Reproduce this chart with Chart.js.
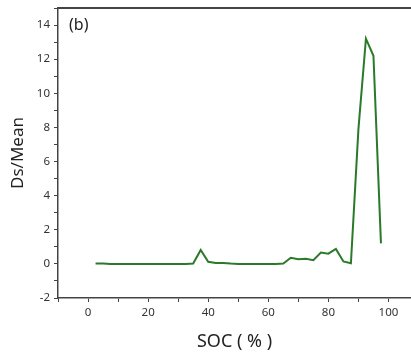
<!DOCTYPE html>
<html>
<head>
<meta charset="utf-8">
<script src="https://cdn.jsdelivr.net/npm/chart.js@4"></script>
<style>
  html, body { margin: 0; padding: 0; background: #fff; }
  #wrap { width: 411px; height: 354px; }
</style>
</head>
<body>
<div id="wrap"><canvas id="chart" width="411" height="354"></canvas></div>
<script>
// SOC (%) and Ds/Mean
const soc = [2.5, 5, 7.5, 10, 12.5, 15, 17.5, 20, 22.5, 25, 27.5, 30, 32.5, 35, 37.5, 40, 42.5, 45, 47.5, 50,
             52.5, 55, 57.5, 60, 62.5, 65, 67.5, 70, 72.5, 75, 77.5, 80, 82.5, 85, 87.5, 90, 92.5, 95, 97.5];
const dsMean = [0.02, 0.02, 0.0, 0.0, 0.0, 0.0, 0.0, 0.0, 0.0, 0.0, 0.0, 0.0, 0.0, 0.02, 0.82, 0.12, 0.05, 0.05, 0.02, 0.0,
                0.0, 0.0, 0.0, 0.0, 0.0, 0.02, 0.36, 0.27, 0.3, 0.22, 0.67, 0.6, 0.88, 0.14, 0.04, 7.9, 13.2, 12.2, 1.2];

const xTickStep = 10, xLabelStep = 20;
const yTickStep = 1, yLabelStep = 2;

const axisColor = "#444";
const tickFont = { family: "Noto Sans", size: 11.5 };

// top frame line
const topBorder = {
    id: "topBorder",
    afterDraw(chart) {
        const { ctx, chartArea } = chart;
        ctx.save();
        ctx.strokeStyle = axisColor;
        ctx.lineWidth = 2;
        ctx.beginPath();
        ctx.moveTo(chartArea.left, chartArea.top);
        ctx.lineTo(chartArea.right + 2, chartArea.top);
        ctx.stroke();
        ctx.restore();
    }
};

new Chart(document.getElementById("chart"), {
    type: "line",
    data: {
        datasets: [{
            data: soc.map((x, i) => ({ x, y: dsMean[i] })),
            borderColor: "#2a7a2a",
            borderWidth: 2,
            pointRadius: 0,
            tension: 0,
            fill: false
        }]
    },
    options: {
        responsive: false,
        animation: false,
        layout: { padding: { top: 8, right: 0, left: 0, bottom: 0 } },
        plugins: { legend: { display: false }, tooltip: { enabled: false } },
        scales: {
            x: {
                type: "linear",
                min: -10,
                max: 107.5,
                afterFit: s => { s.height = 56; },
                border: { color: axisColor, width: 1.5 },
                grid: { drawOnChartArea: false, tickLength: 4, color: axisColor },
                ticks: {
                    stepSize: xTickStep,
                    includeBounds: false,
                    autoSkip: false,
                    maxRotation: 0,
                    color: "#333",
                    font: tickFont,
                    padding: 4,
                    callback: v => (v % xLabelStep === 0 ? v : "")
                },
                title: {
                    display: true,
                    text: "SOC ( % )",
                    color: "#222",
                    font: { family: "Noto Sans", size: 18 },
                    padding: { top: 0, bottom: 1 }
                }
            },
            y: {
                min: -2,
                max: 15,
                afterFit: s => { s.width = 58; s.paddingTop = 0; s.paddingBottom = 0; },
                border: { color: axisColor, width: 1.5 },
                grid: { drawOnChartArea: false, tickLength: 4, color: axisColor },
                ticks: {
                    stepSize: yTickStep,
                    includeBounds: false,
                    autoSkip: false,
                    color: "#333",
                    font: tickFont,
                    padding: 4,
                    callback: v => (v % yLabelStep === 0 && v < 15 ? v : "")
                },
                title: {
                    display: true,
                    text: "Ds/Mean",
                    color: "#222",
                    font: { family: "Noto Sans", size: 17 },
                    padding: { top: 8, bottom: 0 }
                }
            }
        }
    },
    plugins: [topBorder, {
        id: "panelLabel",
        afterDraw(chart) {
            const { ctx, chartArea } = chart;
            ctx.save();
            ctx.fillStyle = "#222";
            ctx.font = "16px 'Noto Sans'";
            ctx.textBaseline = "middle";
            ctx.fillText("(b)", chartArea.left + 11, 25);
            ctx.restore();
        }
    }]
});
</script>
</body>
</html>
